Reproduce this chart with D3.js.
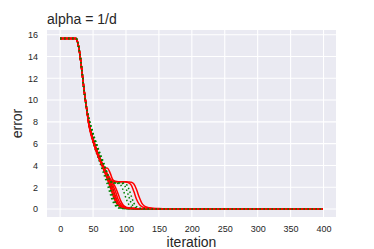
<!DOCTYPE html>
<html>
<head>
<meta charset="utf-8">
<script src="https://cdn.jsdelivr.net/npm/d3@7"></script>
<style>
  body { margin: 0; background: #fff; }
  svg text { font-family: "Liberation Sans", Arial, sans-serif; }
</style>
</head>
<body>
<svg id="chart" width="374" height="249"></svg>
<script>
const iters = [0, 24, 27, 30, 33, 36, 40, 44, 48, 52, 56, 60, 64, 68, 72, 76, 80, 84, 88, 92, 96, 100, 104, 108, 112, 116, 120, 124, 128, 132, 140, 150, 165, 185, 220, 399];

const head = [15.65, 15.65, 15.2, 14.2, 12.7, 11.1, 9.3];

// red solid runs
const redRuns = [
  head.concat([7.6, 6.6, 5.8, 5.1, 4.5, 3.9, 3.3, 2.7, 2.0, 1.3, 0.7, 0.35, 0.18, 0.11, 0.08, 0.06, 0.05, 0.04, 0.03, 0.03, 0.02, 0.02, 0.02, 0.015, 0.01, 0.005, 0.002, 0, 0]),
  head.concat([7.7, 6.7, 5.9, 5.2, 4.6, 4.0, 3.5, 3.0, 2.5, 1.9, 1.2, 0.6, 0.3, 0.16, 0.1, 0.07, 0.05, 0.04, 0.03, 0.03, 0.02, 0.02, 0.02, 0.015, 0.01, 0.005, 0.002, 0, 0]),
  head.concat([7.8, 6.8, 6.0, 5.3, 4.7, 4.1, 3.6, 3.1, 2.6, 2.2, 1.6, 0.9, 0.45, 0.22, 0.13, 0.09, 0.06, 0.05, 0.04, 0.03, 0.03, 0.02, 0.02, 0.015, 0.01, 0.005, 0.002, 0, 0]),
  head.concat([7.9, 6.9, 6.1, 5.4, 4.8, 4.2, 3.7, 3.2, 2.8, 2.4, 2.0, 1.4, 0.75, 0.35, 0.18, 0.11, 0.07, 0.05, 0.04, 0.03, 0.03, 0.02, 0.02, 0.015, 0.01, 0.005, 0.002, 0, 0]),
  head.concat([7.8, 6.8, 6.0, 5.3, 4.6, 4.0, 3.8, 3.75, 3.3, 2.7, 2.55, 2.5, 2.5, 2.5, 2.5, 2.48, 2.45, 2.3, 1.8, 1.1, 0.55, 0.28, 0.16, 0.08, 0.04, 0.015, 0.005, 0, 0]),
  head.concat([7.7, 6.7, 5.9, 5.2, 4.6, 4.0, 3.5, 3.0, 2.7, 2.55, 2.5, 2.5, 2.5, 2.5, 2.48, 2.4, 2.2, 1.6, 0.9, 0.45, 0.22, 0.13, 0.09, 0.05, 0.03, 0.01, 0.004, 0, 0]),
  head.concat([7.6, 6.6, 5.8, 5.1, 4.5, 4.0, 3.4, 2.9, 2.3, 1.6, 0.95, 0.5, 0.25, 0.14, 0.09, 0.06, 0.05, 0.04, 0.03, 0.03, 0.02, 0.02, 0.02, 0.015, 0.01, 0.005, 0.002, 0, 0])
];

// green dotted runs
const greenRuns = [
  head.concat([7.6, 6.5, 5.7, 5.0, 4.3, 3.6, 2.9, 2.2, 1.4, 0.7, 0.3, 0.12, 0.06, 0.04, 0.03, 0.02, 0.02, 0.015, 0.01, 0.01, 0.01, 0.01, 0.01, 0.005, 0.003, 0.002, 0.001, 0, 0]),
  head.concat([7.8, 6.8, 6.0, 5.3, 4.6, 3.9, 3.2, 2.5, 1.8, 1.0, 0.45, 0.18, 0.08, 0.05, 0.03, 0.02, 0.02, 0.015, 0.01, 0.01, 0.01, 0.01, 0.01, 0.005, 0.003, 0.002, 0.001, 0, 0]),
  head.concat([8.0, 7.1, 6.3, 5.6, 4.9, 4.3, 3.6, 2.9, 2.2, 1.4, 0.7, 0.3, 0.12, 0.06, 0.04, 0.03, 0.02, 0.015, 0.01, 0.01, 0.01, 0.01, 0.01, 0.005, 0.003, 0.002, 0.001, 0, 0]),
  head.concat([8.2, 7.3, 6.5, 5.8, 5.1, 4.5, 3.9, 3.2, 2.5, 1.7, 0.9, 0.4, 0.16, 0.07, 0.04, 0.03, 0.02, 0.015, 0.01, 0.01, 0.01, 0.01, 0.01, 0.005, 0.003, 0.002, 0.001, 0, 0]),
  head.concat([7.9, 6.9, 6.1, 5.4, 4.7, 4.0, 3.3, 2.7, 2.45, 2.4, 2.4, 2.35, 2.2, 1.7, 1.0, 0.45, 0.18, 0.08, 0.05, 0.03, 0.02, 0.015, 0.01, 0.005, 0.003, 0.002, 0.001, 0, 0]),
  head.concat([8.1, 7.2, 6.4, 5.7, 5.0, 4.3, 3.6, 2.9, 2.5, 2.42, 2.4, 2.4, 2.38, 2.3, 1.9, 1.2, 0.55, 0.22, 0.1, 0.05, 0.03, 0.02, 0.015, 0.005, 0.003, 0.002, 0.001, 0, 0]),
  head.concat([8.3, 7.4, 6.6, 5.9, 5.2, 4.6, 3.9, 3.2, 2.6, 2.45, 2.4, 2.4, 2.4, 2.38, 2.3, 1.9, 1.2, 0.55, 0.22, 0.1, 0.05, 0.03, 0.02, 0.008, 0.004, 0.002, 0.001, 0, 0])
];

const xTicks = [0, 50, 100, 150, 200, 250, 300, 350, 400];
const yTicks = [0, 2, 4, 6, 8, 10, 12, 14, 16];

const svg = d3.select("#chart");
const margin = { left: 47, top: 30, right: 38, bottom: 32 };
const width = 374 - margin.left - margin.right;
const height = 249 - margin.top - margin.bottom;

const x = d3.scaleLinear().domain([-19.95, 418.95]).range([0, width]);
const y = d3.scaleLinear().domain([-0.73, 16.43]).range([height, 0]);

const g = svg.append("g").attr("transform", `translate(${margin.left},${margin.top})`);

g.append("rect")
  .attr("width", width)
  .attr("height", height)
  .attr("fill", "#eaeaf2");

// grid
g.selectAll(".xgrid").data(xTicks).enter().append("line")
  .attr("x1", d => x(d)).attr("x2", d => x(d))
  .attr("y1", 0).attr("y2", height)
  .attr("stroke", "#fff").attr("stroke-width", 1.1);
g.selectAll(".ygrid").data(yTicks).enter().append("line")
  .attr("y1", d => y(d)).attr("y2", d => y(d))
  .attr("x1", 0).attr("x2", width)
  .attr("stroke", "#fff").attr("stroke-width", 1.1);

// axes (labels only, seaborn darkgrid has no spines)
const xAxis = g.append("g")
  .attr("transform", `translate(0,${height})`)
  .call(d3.axisBottom(x).tickValues(xTicks).tickSize(0).tickPadding(9));
const yAxis = g.append("g")
  .call(d3.axisLeft(y).tickValues(yTicks).tickSize(0).tickPadding(9));

[xAxis, yAxis].forEach(a => {
  a.select(".domain").remove();
  a.selectAll("text")
    .style("font-family", '"Liberation Sans", Arial, sans-serif')
    .style("font-size", "9px")
    .attr("fill", "#262626");
});

const line = d3.line()
  .x((d, i) => x(iters[i]))
  .y(d => y(d))
  .curve(d3.curveMonotoneX);

const clip = g.append("clipPath").attr("id", "clip")
  .append("rect").attr("width", width).attr("height", height);

const lines = g.append("g").attr("clip-path", "url(#clip)");

redRuns.forEach((run, i) => {
  lines.append("path")
    .attr("d", line(run))
    .attr("fill", "none")
    .attr("stroke", "#ff0000")
    .attr("stroke-width", 1.5);
  lines.append("path")
    .attr("d", line(greenRuns[i]))
    .attr("fill", "none")
    .attr("stroke", "#008000")
    .attr("stroke-width", 1.5)
    .attr("stroke-dasharray", "1.5,2.5");
});

// title and axis labels
svg.append("text")
  .attr("x", margin.left)
  .attr("y", 24)
  .style("font-size", "14px")
  .attr("fill", "#262626")
  .text("alpha = 1/d");

svg.append("text")
  .attr("x", margin.left + width / 2)
  .attr("y", 247)
  .attr("text-anchor", "middle")
  .style("font-size", "14px")
  .attr("fill", "#262626")
  .text("iteration");

svg.append("text")
  .attr("transform", `translate(22,${margin.top + height / 2}) rotate(-90)`)
  .attr("text-anchor", "middle")
  .style("font-size", "14px")
  .attr("fill", "#262626")
  .text("error");
</script>
</body>
</html>
